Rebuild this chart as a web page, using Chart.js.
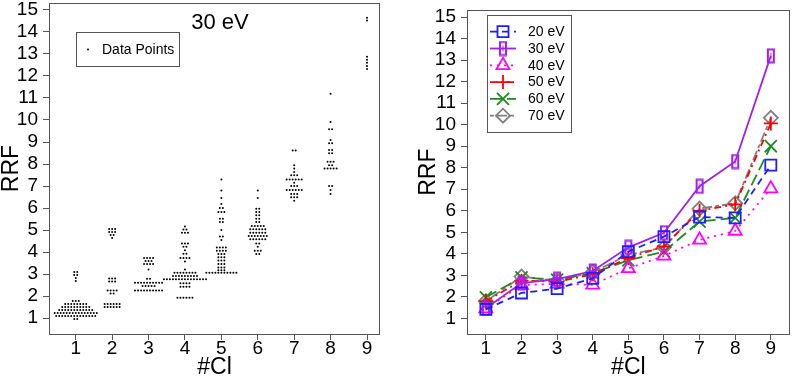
<!DOCTYPE html>
<html>
<head>
<meta charset="utf-8">
<script src="https://cdn.jsdelivr.net/npm/chart.js@4/dist/chart.umd.min.js"></script>
<style>
    body { margin: 0; background: #ffffff; }
    #Wrap { position: relative; width: 800px; height: 380px; }
    canvas { position: absolute; top: 0; }
</style>
</head>
<body>
<div id="Wrap">
    <canvas id="ChartLeft" width="400" height="380" style="left:0px"></canvas>
    <canvas id="ChartRight" width="400" height="380" style="left:400px"></canvas>
</div>
<script>
// Categories and tick values
const clCategories = [1, 2, 3, 4, 5, 6, 7, 8, 9];
const rrfTicks = [1, 2, 3, 4, 5, 6, 7, 8, 9, 10, 11, 12, 13, 14, 15];

// Left panel (30 eV): swarm rows per #Cl as [RRF, number of points in that row]
const swarmCl1 = [[3.09, 2], [2.95, 2], [2.82, 1], [2.68, 1], [1.77, 3], [1.64, 8], [1.50, 10], [1.36, 12], [1.23, 15], [1.09, 14], [0.95, 2]];
const swarmCl2 = [[5.04, 3], [4.91, 3], [4.77, 2], [4.64, 1], [2.79, 3], [2.66, 3], [2.25, 4], [2.11, 2], [1.64, 6], [1.50, 6]];
const swarmCl3 = [[3.73, 4], [3.59, 3], [3.45, 4], [3.21, 1], [2.78, 2], [2.60, 10], [2.45, 5], [2.25, 10]];
const swarmCl4 = [[5.16, 1], [5.02, 2], [4.87, 3], [4.39, 3], [4.24, 2], [4.08, 1], [3.92, 2], [3.73, 4], [3.57, 1], [3.21, 1], [3.06, 8], [2.91, 9], [2.76, 15], [2.58, 4], [2.42, 4], [1.92, 6]];
const swarmCl5 = [[7.30, 1], [6.79, 1], [6.45, 1], [6.18, 1], [6.00, 2], [5.82, 3], [5.51, 2], [5.36, 2], [5.00, 1], [4.70, 2], [4.55, 1], [4.21, 4], [4.06, 4], [3.91, 3], [3.76, 3], [3.61, 3], [3.45, 3], [3.30, 3], [3.17, 3], [3.06, 11]];
const swarmCl6 = [[6.79, 1], [6.45, 1], [5.97, 2], [5.82, 2], [5.67, 2], [5.51, 2], [5.36, 2], [5.18, 5], [5.03, 6], [4.88, 6], [4.73, 7], [4.58, 6], [4.39, 2], [4.24, 1], [4.06, 3], [3.91, 2]];
const swarmCl7 = [[8.61, 2], [7.94, 1], [7.79, 1], [7.64, 1], [7.49, 3], [7.30, 6], [7.15, 1], [7.00, 3], [6.82, 6], [6.64, 3], [6.49, 3], [6.33, 1]];
const swarmCl8 = [[11.19, 1], [9.91, 1], [9.58, 2], [9.09, 1], [8.94, 2], [8.64, 2], [8.49, 2], [8.10, 3], [7.94, 2], [7.79, 5], [7.00, 2], [6.82, 1], [6.64, 1]];
const swarmCl9 = [[14.65, 1], [14.52, 1], [12.88, 1], [12.74, 1], [12.60, 1], [12.46, 1], [12.32, 1]];

// Right panel: mean RRF per #Cl for each energy
const energyLabels = ['20 eV', '30 eV', '40 eV', '50 eV', '60 eV', '70 eV'];
const rrf20eV = [1.42, 2.18, 2.38, 2.86, 4.10, 4.80, 5.71, 5.67, 8.12];
const rrf30eV = [1.47, 2.64, 2.82, 3.20, 4.30, 4.98, 7.14, 8.29, 13.20];
const rrf40eV = [1.45, 2.55, 2.60, 2.56, 3.32, 3.90, 4.65, 5.06, 7.03];
const rrf50eV = [1.80, 2.75, 2.70, 3.05, 3.80, 4.35, 6.00, 6.30, 10.06];
const rrf60eV = [1.98, 2.90, 2.80, 3.10, 3.70, 4.10, 5.50, 5.67, 9.00];
const rrf70eV = [1.80, 2.94, 2.75, 3.15, 3.95, 4.30, 6.10, 6.35, 10.32];

Initialize();

function Initialize()
{
    const fontFamily = '"Liberation Sans", Arial, Helvetica, sans-serif';
    Chart.defaults.font.family = fontFamily;
    Chart.defaults.color = '#000000';

    // Build the swarm points: rows are centred on their #Cl position
    const swarmStep = 0.0825;
    const swarmRows = [swarmCl1, swarmCl2, swarmCl3, swarmCl4, swarmCl5, swarmCl6, swarmCl7, swarmCl8, swarmCl9];
    const swarmPoints = [];
    swarmRows.forEach((rows, i) =>
    {
        rows.forEach(([value, count]) =>
        {
            for (let k = 0; k < count; k++)
            {
                swarmPoints.push({ x: clCategories[i] + (k - (count - 1) / 2) * swarmStep, y: value });
            }
        });
    });

    const ctxLeft = document.getElementById('ChartLeft').getContext('2d');
    new Chart(ctxLeft,
    {
        type: 'scatter',
        data:
        {
            datasets:
            [
                {
                    label: 'Data Points',
                    data: swarmPoints,
                    pointRadius: 1.0,
                    pointBorderWidth: 0,
                    pointBackgroundColor: '#000000',
                    pointHoverRadius: 1.0
                }
            ]
        },
        options: CreateOptions(0.266, 9.357, 49, 0, 20),
        plugins: [FramePlugin(), LeftDecorPlugin()]
    });

    // 30 eV marker: narrow open bar
    const barMarker = document.createElement('canvas');
    barMarker.width = 10;
    barMarker.height = 16;
    const bctx = barMarker.getContext('2d');
    bctx.strokeStyle = '#a020f0';
    bctx.lineWidth = 2;
    bctx.strokeRect(2, 1.5, 6, 13);
    bctx.lineWidth = 1;
    bctx.beginPath();
    bctx.moveTo(5, 5);
    bctx.lineTo(5, 11);
    bctx.stroke();

    const seriesValues = [rrf20eV, rrf30eV, rrf40eV, rrf50eV, rrf60eV, rrf70eV];
    const seriesColors = ['#1e1eff', '#a020f0', '#ff00ff', '#ff0000', '#1e8b1e', '#808080'];
    const seriesDash = [[7, 5], [], [2, 5], [7, 4, 2, 4], [12, 5], [4, 3, 10, 3]];
    const seriesMarker = ['rect', barMarker, 'triangle', 'cross', 'crossRot', 'rectRot'];
    const seriesRadius = [7.8, 7, 7.5, 7, 8.5, 7];

    const ctxRight = document.getElementById('ChartRight').getContext('2d');
    new Chart(ctxRight,
    {
        type: 'line',
        data:
        {
            datasets: energyLabels.map((label, i) =>
            ({
                label: label,
                data: seriesValues[i].map((v, j) => ({ x: clCategories[j], y: v })),
                borderColor: seriesColors[i],
                borderWidth: 1.8,
                borderDash: seriesDash[i],
                fill: false,
                tension: 0,
                pointStyle: seriesMarker[i],
                pointRadius: seriesRadius[i],
                pointHoverRadius: seriesRadius[i],
                pointBorderColor: seriesColors[i],
                pointBackgroundColor: 'rgba(0,0,0,0)',
                pointBorderWidth: 1.8
            }))
        },
        options: CreateOptions(0.47, 9.53, 67, 17, 3),
        plugins: [FramePlugin(), RightLegendPlugin()]
    });
}

function CreateOptions(xMin, xMax, yWidth, yTitlePad, rightPad)
{
    return {
        responsive: false,
        animation: false,
        layout: { padding: { left: 0, right: rightPad, top: 3, bottom: 0 } },
        plugins: { legend: { display: false }, tooltip: { enabled: false } },
        scales:
        {
            x:
            {
                type: 'linear',
                min: xMin,
                max: xMax,
                afterBuildTicks: (scale) => { scale.ticks = clCategories.map(v => ({ value: v })); },
                afterFit: (scale) => { scale.height = 46; scale.paddingLeft = 0; scale.paddingRight = 0; },
                ticks: { font: { size: 19, lineHeight: 1 }, padding: -1, color: '#000000', callback: v => String(v) },
                grid: { drawOnChartArea: false, color: '#555555', tickLength: 6, lineWidth: 1 },
                border: { display: false },
                title: { display: true, text: '#Cl', font: { size: 23, lineHeight: 1 }, padding: { top: 0, bottom: 0.5 }, color: '#000000' }
            },
            y:
            {
                type: 'linear',
                min: 0.273,
                max: 15.318,
                afterBuildTicks: (scale) => { scale.ticks = rrfTicks.map(v => ({ value: v })); },
                afterFit: (scale) => { scale.width = yWidth; scale.paddingTop = 0; scale.paddingBottom = 0; },
                ticks: { font: { size: 19, lineHeight: 1 }, padding: 5, color: '#000000', callback: v => String(v) },
                grid: { drawOnChartArea: false, color: '#555555', tickLength: 6, lineWidth: 1 },
                border: { display: false },
                title: { display: true, text: 'RRF', font: { size: 23, lineHeight: 1 }, padding: { top: yTitlePad, bottom: 0 }, color: '#000000' }
            }
        }
    };
}

function FramePlugin()
{
    return {
        id: 'framePlugin',
        afterDraw(chart)
        {
            const ctx = chart.ctx;
            const a = chart.chartArea;
            ctx.save();
            ctx.strokeStyle = '#555555';
            ctx.lineWidth = 1;
            ctx.strokeRect(Math.round(a.left) + 0.5, Math.round(a.top) + 0.5, Math.round(a.right - a.left) - 1, Math.round(a.bottom - a.top));
            ctx.restore();
        }
    };
}

function LeftDecorPlugin()
{
    return {
        id: 'leftDecor',
        afterDraw(chart)
        {
            const ctx = chart.ctx;
            ctx.save();
            // Panel title
            ctx.fillStyle = '#000000';
            ctx.font = '22px "Liberation Sans", Arial, sans-serif';
            ctx.textAlign = 'center';
            ctx.textBaseline = 'middle';
            ctx.fillText('30 eV', 220, 23);

            // Legend box
            ctx.strokeStyle = '#555555';
            ctx.lineWidth = 1;
            ctx.strokeRect(76.5, 32.5, 103, 34);
            const ds = chart.data.datasets[0];
            ctx.beginPath();
            ctx.arc(88, 49.5, ds.pointRadius, 0, Math.PI * 2);
            ctx.fill();
            ctx.font = '14px "Liberation Sans", Arial, sans-serif';
            ctx.textAlign = 'left';
            ctx.fillText(ds.label, 102, 50);
            ctx.restore();
        }
    };
}

function RightLegendPlugin()
{
    return {
        id: 'rightLegend',
        afterDraw(chart)
        {
            const ctx = chart.ctx;
            ctx.save();
            ctx.strokeStyle = '#555555';
            ctx.lineWidth = 1;
            ctx.setLineDash([]);
            ctx.strokeRect(87.5, 15.5, 84, 117);

            chart.data.datasets.forEach((ds, i) =>
            {
                const y = 31.7 + i * 16.8;
                ctx.save();
                ctx.strokeStyle = ds.borderColor;
                ctx.lineWidth = ds.borderWidth;
                ctx.setLineDash(ds.borderDash);
                ctx.beginPath();
                ctx.moveTo(90, y);
                ctx.lineTo(116, y);
                ctx.stroke();
                ctx.setLineDash([]);
                ctx.fillStyle = 'rgba(0,0,0,0)';
                ctx.lineWidth = ds.pointBorderWidth;
                Chart.helpers.drawPoint(ctx, { pointStyle: ds.pointStyle, radius: ds.pointRadius, rotation: 0, borderWidth: ds.pointBorderWidth }, 103, y);
                ctx.restore();

                ctx.fillStyle = '#000000';
                ctx.font = '14px "Liberation Sans", Arial, sans-serif';
                ctx.textAlign = 'left';
                ctx.textBaseline = 'middle';
                ctx.fillText(ds.label, 128, y + 0.5);
            });
            ctx.restore();
        }
    };
}
</script>
</body>
</html>
